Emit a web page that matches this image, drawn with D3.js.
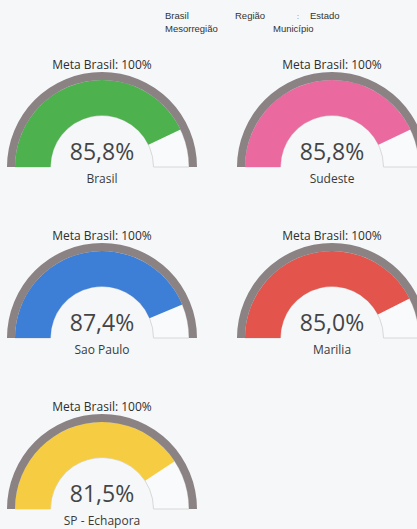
<!DOCTYPE html>
<html><head><meta charset="utf-8">
<script src="https://cdn.jsdelivr.net/npm/d3@7"></script>
<style>
html,body{margin:0;padding:0;background:#f5f7f9;}
svg{display:block;}
</style></head>
<body>
<svg id="chart" width="417" height="529"></svg>
<script>
// Data
const legendItems = ["Brasil", "Região", "Estado", "Mesorregião", "Município"];
const gaugeLabels = ["Brasil", "Sudeste", "Sao Paulo", "Marilia", "SP - Echapora"];
const gaugeValues = [85.8, 85.8, 87.4, 85.0, 81.5];
const metaLabel = "Meta Brasil: 100%";
const metaValue = 100;

// Styles
const gaugeColors = ["#4db14e", "#ea6aa0", "#3d7fd6", "#e2544c", "#f6cd42"];
const ringColor = "#8b8284";

const svg = d3.select("#chart");

// legend
const legendPos = [[165,19],[235,19],[310,19],[165,32],[273,32]];
const lg = svg.append("g").attr("font-family","Liberation Sans, Arial, sans-serif").attr("font-size",9.5).attr("fill","#333");
legendItems.forEach((t,i)=>{
  lg.append("text").attr("x",legendPos[i][0]).attr("y",legendPos[i][1]).text(t);
});
lg.append("text").attr("x",297).attr("y",19).text(":").attr("font-size",7).attr("fill","#666");

// gauges
const cols = [102, 332];
const rows = [167, 338, 509];
const angle = d3.scaleLinear().domain([0, metaValue]).range([-Math.PI/2, Math.PI/2]);
const rOuter = 95, rRingIn = 87, rIn = 51.5;
const ringArc = d3.arc().innerRadius(rRingIn).outerRadius(rOuter).startAngle(angle(0)).endAngle(angle(metaValue));
const fillArc = d3.arc().innerRadius(rIn).outerRadius(rRingIn);

gaugeValues.forEach((v,i)=>{
  const cx = cols[i%2], cy = rows[Math.floor(i/2)];
  const g = svg.append("g").attr("transform",`translate(${cx},${cy})`);
  g.append("path").attr("d", fillArc({startAngle:angle(0), endAngle:angle(metaValue)}))
    .attr("fill","#f9fafb").attr("stroke","#d8d8d8").attr("stroke-width",1);
  g.append("path").attr("d", fillArc({startAngle:angle(0), endAngle:angle(v)}))
    .attr("fill", gaugeColors[i]);
  g.append("path").attr("d", ringArc()).attr("fill", ringColor);
  g.append("text").attr("x",0).attr("y",-98).attr("text-anchor","middle")
    .attr("font-family","Open Sans, sans-serif").attr("font-size",12).attr("fill","#2e2e2e")
    .text(metaLabel);
  g.append("text").attr("x",0).attr("y",-7).attr("text-anchor","middle")
    .attr("font-family","Open Sans, sans-serif").attr("font-size",23).attr("fill","#444")
    .text(d3.format(".1f")(v).replace(".",",") + "%");
  g.append("text").attr("x",0).attr("y",16).attr("text-anchor","middle")
    .attr("font-family","Open Sans, sans-serif").attr("font-size",12).attr("font-weight",500).attr("fill","#3a3a3a")
    .text(gaugeLabels[i]);
});
</script>
</body></html>
